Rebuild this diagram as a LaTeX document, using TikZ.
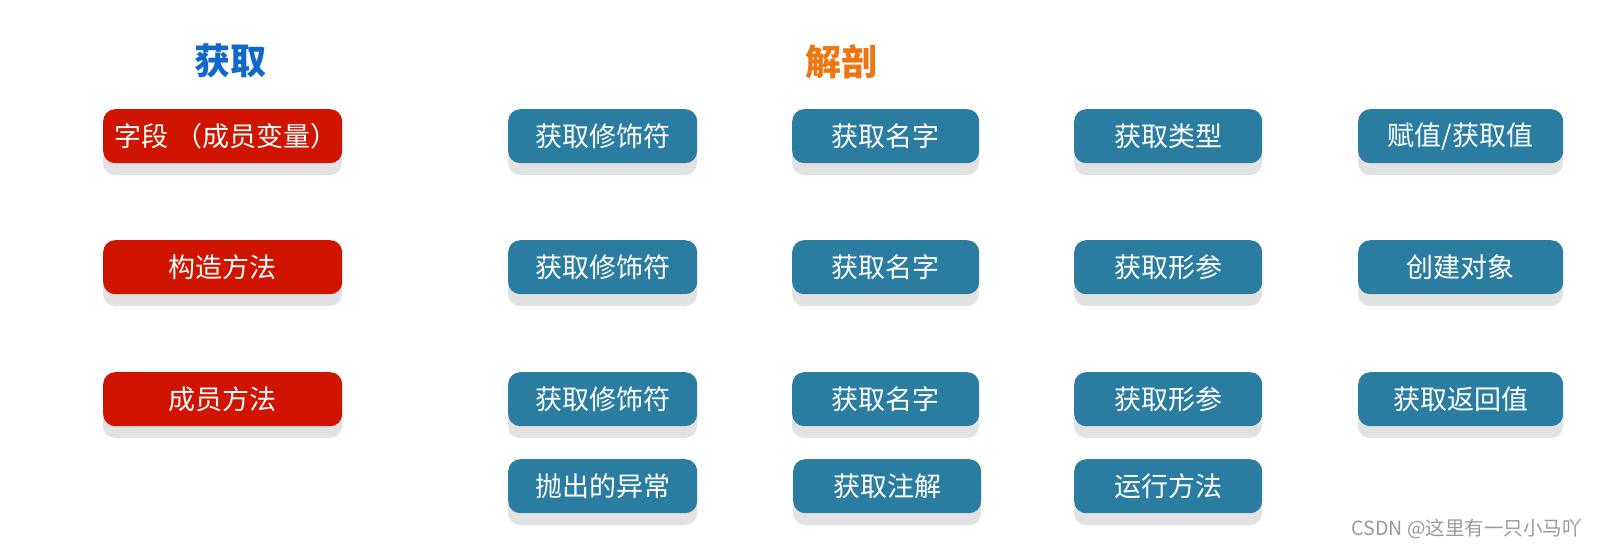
\documentclass[tikz,border=0pt]{standalone}
\usepackage{fontspec}
\setmainfont{Noto Sans CJK SC}
\newfontfamily\cjktitle{Noto Sans CJK SC}
\definecolor{redbox}{HTML}{D11400}
\definecolor{bluebox}{HTML}{2A7DA1}
\definecolor{shadowgray}{HTML}{E2E2E2}
\definecolor{titleblue}{HTML}{1268C8}
\definecolor{titleorange}{HTML}{EE7611}
\definecolor{markgray}{HTML}{9A9A9A}
\tikzset{
  boxbase/.style={rounded corners=12pt, inner sep=0pt, text=white,
    font=\fontsize{27}{30}\selectfont, anchor=north west},
  redstyle/.style={boxbase, fill=redbox},
  bluestyle/.style={boxbase, fill=bluebox},
  titlestyle/.style={font=\cjktitle\bfseries\fontsize{36}{38}\selectfont},
}
% \mybox{name}{x}{y}{w}{style}{text}
\newcommand{\mybox}[6]{%
  \fill[shadowgray, rounded corners=12pt] (#2,#3+12) rectangle ++(#4,54);
  \node[#5, minimum width=#4pt, minimum height=54pt] (#1) at (#2,#3) {#6};
}
\begin{document}
\begin{tikzpicture}[x=1pt,y=-1pt]
\useasboundingbox[fill=white] (0,0) rectangle (1599,551);
\node[titlestyle, text=titleblue] (t1) at (230,61) {获取};
\node[titlestyle, text=titleorange] (t2) at (841,62) {解剖};
% red column
\mybox{r1}{103}{109}{239}{redstyle}{\kern7pt字段\kern7pt（成员变量）}
\mybox{r2}{103}{240}{239}{redstyle}{构造方法}
\mybox{r3}{103}{372}{239}{redstyle}{成员方法}
% row 1
\mybox{a1}{508}{109}{189}{bluestyle}{获取修饰符}
\mybox{b1}{792}{109}{187}{bluestyle}{获取名字}
\mybox{c1}{1074}{109}{188}{bluestyle}{获取类型}
\mybox{d1}{1358}{109}{205}{bluestyle}{赋值/获取值}
% row 2
\mybox{a2}{508}{240}{189}{bluestyle}{获取修饰符}
\mybox{b2}{792}{240}{187}{bluestyle}{获取名字}
\mybox{c2}{1074}{240}{188}{bluestyle}{获取形参}
\mybox{d2}{1358}{240}{205}{bluestyle}{创建对象}
% row 3
\mybox{a3}{508}{372}{189}{bluestyle}{获取修饰符}
\mybox{b3}{792}{372}{187}{bluestyle}{获取名字}
\mybox{c3}{1074}{372}{188}{bluestyle}{获取形参}
\mybox{d3}{1358}{372}{205}{bluestyle}{获取返回值}
% row 4
\mybox{a4}{508}{459}{189}{bluestyle}{抛出的异常}
\mybox{b4}{793}{459}{188}{bluestyle}{获取注解}
\mybox{c4}{1074}{459}{188}{bluestyle}{运行方法}
% watermark
\node[anchor=east, text=markgray, font=\fontsize{19.5}{21}\selectfont, inner sep=0pt] (wm) at (1582,529) {CSDN @这里有一只小马吖};
\end{tikzpicture}
\end{document}
